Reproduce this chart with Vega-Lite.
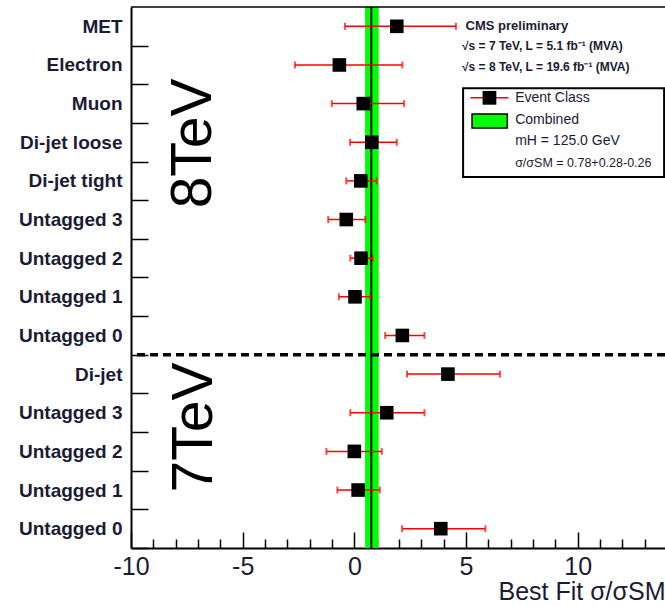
{
  "$schema": "https://vega.github.io/schema/vega-lite/v6.json",
  "width": 534,
  "height": 541,
  "autosize": {"type": "none"},
  "padding": {"left": 131, "top": 7, "right": 0, "bottom": 58},
  "config": {"font": "Liberation Sans", "view": {"stroke": null}},
  "datasets": {
    "classes": [
      {"energy": "8TeV", "category": "MET", "row": 13.5, "val": 1.9, "lo": -0.42, "hi": 4.55},
      {"energy": "8TeV", "category": "Electron", "row": 12.5, "val": -0.67, "lo": -2.66, "hi": 2.15},
      {"energy": "8TeV", "category": "Muon", "row": 11.5, "val": 0.4, "lo": -1.01, "hi": 2.23},
      {"energy": "8TeV", "category": "Di-jet loose", "row": 10.5, "val": 0.78, "lo": -0.19, "hi": 1.9},
      {"energy": "8TeV", "category": "Di-jet tight", "row": 9.5, "val": 0.29, "lo": -0.36, "hi": 1.0},
      {"energy": "8TeV", "category": "Untagged 3", "row": 8.5, "val": -0.36, "lo": -1.17, "hi": 0.49},
      {"energy": "8TeV", "category": "Untagged 2", "row": 7.5, "val": 0.3, "lo": -0.18, "hi": 0.82},
      {"energy": "8TeV", "category": "Untagged 1", "row": 6.5, "val": 0.03, "lo": -0.69, "hi": 0.73},
      {"energy": "8TeV", "category": "Untagged 0", "row": 5.5, "val": 2.15, "lo": 1.38, "hi": 3.14},
      {"energy": "7TeV", "category": "Di-jet", "row": 4.5, "val": 4.19, "lo": 2.36, "hi": 6.52},
      {"energy": "7TeV", "category": "Untagged 3", "row": 3.5, "val": 1.45, "lo": -0.18, "hi": 3.14},
      {"energy": "7TeV", "category": "Untagged 2", "row": 2.5, "val": 0.0, "lo": -1.25, "hi": 1.23},
      {"energy": "7TeV", "category": "Untagged 1", "row": 1.5, "val": 0.17, "lo": -0.76, "hi": 1.14},
      {"energy": "7TeV", "category": "Untagged 0", "row": 0.5, "val": 3.87, "lo": 2.14, "hi": 5.87}
    ],
    "combined": [{"val": 0.76, "lo": 0.48, "hi": 1.09}]
  },
  "data": {"name": "classes"},
  "resolve": {"axis": {"x": "independent"}},
  "layer": [
    {
      "data": {"name": "combined"},
      "mark": {"type": "rect", "color": "#00ff00"},
      "encoding": {
        "x": {
          "field": "lo", "type": "quantitative",
          "scale": {"domain": [-10, 13.91], "nice": false, "zero": false},
          "axis": {
            "orient": "bottom",
            "title": "Best Fit σ/σSM",
            "values": [-10, -5, 0, 5, 10],
            "labelExpr": "replace(datum.label, '−', '-')",
            "labelOverlap": false,
            "tickSize": -16,
            "tickColor": "black",
            "tickWidth": 1.5,
            "domainColor": "black",
            "domainWidth": 2,
            "grid": false,
            "labelFontSize": 25,
            "labelColor": "#1b1b33",
            "labelPadding": 22,
            "labelFlush": false,
            "titleFontSize": 25,
            "titleFontWeight": "normal",
            "titleColor": "#1b1b33",
            "titleAnchor": "end",
            "titlePadding": 0
          }
        },
        "x2": {"field": "hi"}
      }
    },
    {
      "data": {"name": "combined"},
      "mark": {"type": "rule", "color": "black", "strokeWidth": 2},
      "encoding": {
        "x": {
          "field": "val", "type": "quantitative",
          "scale": {"domain": [-10, 13.91], "nice": false, "zero": false},
          "axis": {
            "orient": "bottom",
            "title": null,
            "values": [-9, -8, -7, -6, -4, -3, -2, -1, 1, 2, 3, 4, 6, 7, 8, 9, 11, 12, 13],
            "labels": false,
            "domain": false,
            "grid": false,
            "tickSize": -9,
            "tickColor": "black",
            "tickWidth": 1.5
          }
        }
      }
    },
    {
      "mark": {"type": "rule", "color": "#ff0000", "strokeWidth": 1.5},
      "encoding": {
        "x": {"field": "lo", "type": "quantitative", "axis": null},
        "x2": {"field": "hi"},
        "y": {
          "field": "row", "type": "quantitative",
          "scale": {"domain": [0, 14], "nice": false, "zero": false},
          "axis": {
            "title": null,
            "values": [0.5, 1.5, 2.5, 3.5, 4.5, 5.5, 6.5, 7.5, 8.5, 9.5, 10.5, 11.5, 12.5, 13.5],
            "labelExpr": "['Untagged 0','Untagged 1','Untagged 2','Untagged 3','Di-jet','Untagged 0','Untagged 1','Untagged 2','Untagged 3','Di-jet tight','Di-jet loose','Muon','Electron','MET'][floor(datum.value)]",
            "labelOverlap": false,
            "tickOffset": 19.32,
            "labelOffset": -19.32,
            "tickSize": -17,
            "tickWidth": 1.5,
            "tickColor": "black",
            "domainColor": "black",
            "domainWidth": 2,
            "grid": false,
            "labelFontSize": 19,
            "labelFontWeight": "bold",
            "labelColor": "#1b1b33",
            "labelPadding": 26
          }
        }
      }
    },
    {
      "mark": {"type": "tick", "orient": "vertical", "color": "#ff0000", "size": 7, "thickness": 2},
      "encoding": {
        "x": {"field": "lo", "type": "quantitative", "axis": null},
        "y": {"field": "row", "type": "quantitative"}
      }
    },
    {
      "mark": {"type": "tick", "orient": "vertical", "color": "#ff0000", "size": 7, "thickness": 2},
      "encoding": {
        "x": {"field": "hi", "type": "quantitative", "axis": null},
        "y": {"field": "row", "type": "quantitative"}
      }
    },
    {
      "mark": {"type": "point", "shape": "square", "filled": true, "size": 185, "color": "black", "opacity": 1},
      "encoding": {
        "x": {"field": "val", "type": "quantitative", "axis": null},
        "y": {"field": "row", "type": "quantitative"}
      }
    },
    {
      "data": {"values": [{}]},
      "mark": {"type": "rule", "color": "black", "strokeWidth": 3.5, "strokeDash": [8, 5]},
      "encoding": {"y": {"datum": 5}}
    },
    {
      "data": {"values": [{}]},
      "mark": {"type": "rule", "color": "black", "strokeWidth": 1.5},
      "encoding": {"y": {"datum": 14}}
    },
    {
      "data": {"values": [{}]},
      "mark": {"type": "text", "text": "8TeV", "angle": 270, "fontSize": 57, "align": "center", "baseline": "middle", "color": "black"},
      "encoding": {"x": {"datum": -7.2, "axis": null}, "y": {"datum": 10.47}}
    },
    {
      "data": {"values": [{}]},
      "mark": {"type": "text", "text": "7TeV", "angle": 270, "fontSize": 57, "align": "center", "baseline": "middle", "color": "black"},
      "encoding": {"x": {"datum": -7.15, "axis": null}, "y": {"datum": 3.12}}
    },
    {
      "data": {"values": [{}]},
      "mark": {"type": "text", "text": "CMS preliminary", "fontSize": 13, "fontWeight": "bold", "align": "left", "baseline": "middle", "color": "#1b1b33"},
      "encoding": {"x": {"datum": 4.98, "axis": null}, "y": {"datum": 13.52}}
    },
    {
      "data": {"values": [{}]},
      "mark": {"type": "text", "text": "√s = 7 TeV, L = 5.1 fb⁻¹ (MVA)", "fontSize": 12, "fontWeight": "bold", "align": "left", "baseline": "middle", "color": "#1b1b33"},
      "encoding": {"x": {"datum": 4.82, "axis": null}, "y": {"datum": 12.99}}
    },
    {
      "data": {"values": [{}]},
      "mark": {"type": "text", "text": "√s = 8 TeV, L = 19.6 fb⁻¹ (MVA)", "fontSize": 12, "fontWeight": "bold", "align": "left", "baseline": "middle", "color": "#1b1b33"},
      "encoding": {"x": {"datum": 4.82, "axis": null}, "y": {"datum": 12.44}}
    },
    {
      "data": {"values": [{}]},
      "mark": {"type": "rect", "fill": "white", "stroke": "black", "strokeWidth": 2},
      "encoding": {"x": {"datum": 4.87, "axis": null}, "x2": {"datum": 13.87}, "y": {"datum": 11.9}, "y2": {"datum": 9.6}}
    },
    {
      "data": {"values": [{}]},
      "mark": {"type": "rule", "color": "#ff0000", "strokeWidth": 1.5},
      "encoding": {"x": {"datum": 5.2, "axis": null}, "x2": {"datum": 6.9}, "y": {"datum": 11.65}}
    },
    {
      "data": {"values": [{}]},
      "mark": {"type": "point", "shape": "square", "filled": true, "size": 190, "color": "black", "opacity": 1},
      "encoding": {"x": {"datum": 6.05, "axis": null}, "y": {"datum": 11.65}}
    },
    {
      "data": {"values": [{}]},
      "mark": {"type": "rect", "fill": "#00ff00", "stroke": "black", "strokeWidth": 1.5},
      "encoding": {"x": {"datum": 5.27, "axis": null}, "x2": {"datum": 6.85}, "y": {"datum": 11.23}, "y2": {"datum": 10.87}}
    },
    {
      "data": {"values": [{}]},
      "mark": {"type": "text", "text": "Event Class", "fontSize": 14, "align": "left", "baseline": "middle", "color": "#1b1b33"},
      "encoding": {"x": {"datum": 7.2, "axis": null}, "y": {"datum": 11.65}}
    },
    {
      "data": {"values": [{}]},
      "mark": {"type": "text", "text": "Combined", "fontSize": 14, "align": "left", "baseline": "middle", "color": "#1b1b33"},
      "encoding": {"x": {"datum": 7.2, "axis": null}, "y": {"datum": 11.08}}
    },
    {
      "data": {"values": [{}]},
      "mark": {"type": "text", "text": "mH = 125.0 GeV", "fontSize": 14, "align": "left", "baseline": "middle", "color": "#1b1b33"},
      "encoding": {"x": {"datum": 7.2, "axis": null}, "y": {"datum": 10.52}}
    },
    {
      "data": {"values": [{}]},
      "mark": {"type": "text", "text": "σ/σSM = 0.78+0.28-0.26", "fontSize": 12.5, "align": "left", "baseline": "middle", "color": "#1b1b33"},
      "encoding": {"x": {"datum": 7.2, "axis": null}, "y": {"datum": 9.96}}
    }
  ]
}
